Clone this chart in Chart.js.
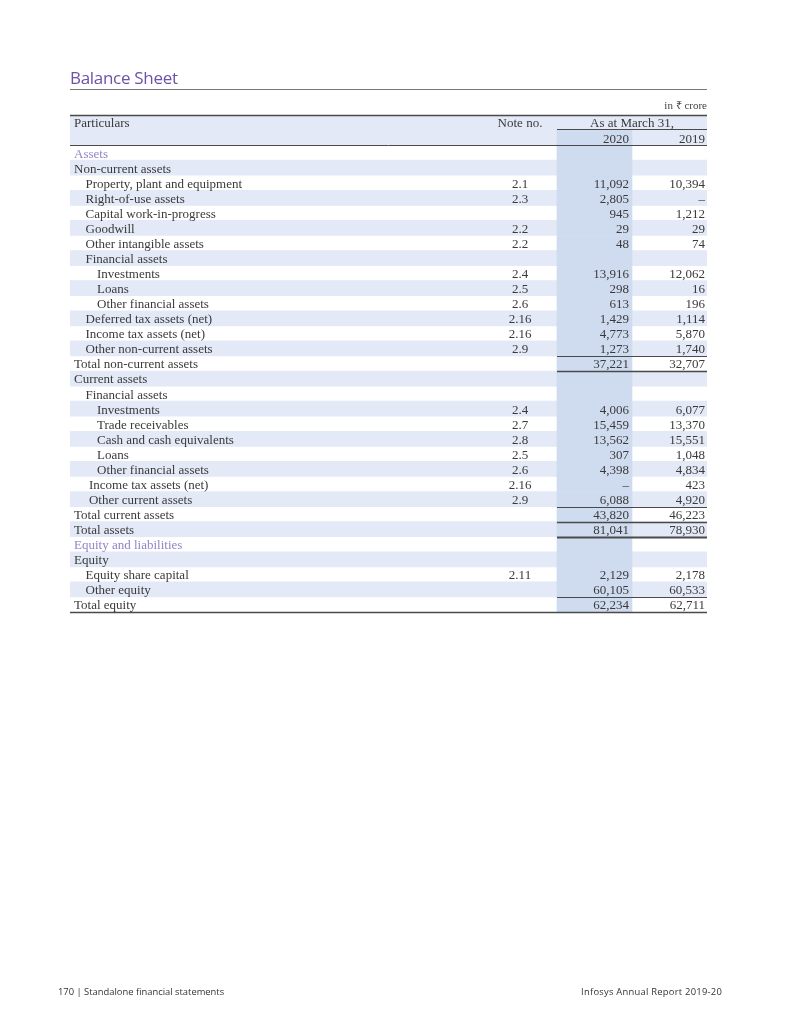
<!DOCTYPE html>
<html>
<head>
<meta charset="utf-8">
<script src="https://cdn.jsdelivr.net/npm/chart.js@4.4.1/dist/chart.umd.min.js"></script>
<style>
  html, body { margin: 0; padding: 0; background: #fff; }
  #wrap { position: relative; width: 800px; height: 1035px; overflow: hidden; }
  canvas { position: absolute; left: 0; top: 0; }
  .t { position: absolute; white-space: nowrap; }
  #title { left: 70px; top: 66px; font-family: "Open Sans", sans-serif; font-size: 17px; color: #6e51a9; letter-spacing: -0.3px; }
  #rule { left: 70px; top: 89px; width: 637px; height: 0; border-top: 1px solid #777; }
  #unit { right: 93px; top: 97px; font-family: "Liberation Serif", serif; font-size: 11px; color: #444; }
  #footL { left: 58px; top: 985px; font-family: "Open Sans", sans-serif; font-size: 9.4px; color: #333; }
  #footR { right: 78px; top: 985px; font-family: "Open Sans", sans-serif; font-size: 9.4px; letter-spacing: 0.25px; color: #333; }
</style>
</head>
<body>
<div id="wrap">
  <canvas id="c" width="800" height="1035"></canvas>
  <div class="t" id="title">Balance Sheet</div>
  <div class="t" id="rule"></div>
  <div class="t" id="unit">in ₹ crore</div>
  <div class="t" id="footL">170 | Standalone financial statements</div>
  <div class="t" id="footR">Infosys Annual Report 2019-20</div>
</div>
<script>
// ---------------- DATA ----------------
const headerLabels = ['Particulars', 'Note no.', 'As at March 31,'];
const yearLabels = ['2020', '2019'];

const rowLabels = [
  'Assets',
  'Non-current assets',
  'Property, plant and equipment',
  'Right-of-use assets',
  'Capital work-in-progress',
  'Goodwill',
  'Other intangible assets',
  'Financial assets',
  'Investments',
  'Loans',
  'Other financial assets',
  'Deferred tax assets (net)',
  'Income tax assets (net)',
  'Other non-current assets',
  'Total non-current assets',
  'Current assets',
  'Financial assets',
  'Investments',
  'Trade receivables',
  'Cash and cash equivalents',
  'Loans',
  'Other financial assets',
  'Income tax assets (net)',
  'Other current assets',
  'Total current assets',
  'Total assets',
  'Equity and liabilities',
  'Equity',
  'Equity share capital',
  'Other equity',
  'Total equity'
];

// hierarchy level of each row
const levels = [0,0,1,1,1,1,1,1,2,2,2,1,1,1,0,0,1,2,2,2,2,2,1.3,1.3,0,0,0,0,1,1,0];

// row kind: s = section heading, g = group, i = item, t = total, T = grand total
const kinds = ['s','g','i','i','i','i','i','g','i','i','i','i','i','i','t','g','g','i','i','i','i','i','i','i','t','T','s','g','i','i','t'];

const noteNos = ['','','2.1','2.3','','2.2','2.2','','2.4','2.5','2.6','2.16','2.16','2.9','','','','2.4','2.7','2.8','2.5','2.6','2.16','2.9','','','','','2.11','',''];

const values2020 = [null,null,11092,2805,945,29,48,null,13916,298,613,1429,4773,1273,37221,null,null,4006,15459,13562,307,4398,'–',6088,43820,81041,null,null,2129,60105,62234];
const values2019 = [null,null,10394,'–',1212,29,74,null,12062,16,196,1114,5870,1740,32707,null,null,6077,13370,15551,1048,4834,423,4920,46223,78930,null,null,2178,60533,62711];

// ---------------- LAYOUT (table units along x) ----------------
const TABLE_W = 637;
const COL = { labelBase: 4, indent: 11.5, note: 450, c20L: 487, c20R: 562, c20Text: 559, c19Text: 635 };
const BAND = '#e3e9f6';
const BAND20 = '#cfdcf0';
const TEXT = '#3a3a3a';
const PURPLE = '#9383c8';
const FONT = '"Liberation Serif", "Times New Roman", serif';
const FS = 13;
const DY = 1.5;

const HEADER_ROWS = 2;
const categories = ['', ''].concat(rowLabels);

const rowBand = categories.map((_, i) => {
  if (i < HEADER_ROWS) return [0, TABLE_W];
  return ((i - HEADER_ROWS) % 2 === 1) ? [0, TABLE_W] : null;
});
const colBand = categories.map((_, i) => (i === 0 ? null : [COL.c20L, COL.c20R]));

const fmt = v => (v === null || v === undefined) ? '' : (typeof v === 'number' ? v.toLocaleString('en-US') : v);

const tablePlugin = {
  id: 'tableText',
  afterDatasetsDraw(chart) {
    const ctx = chart.ctx;
    const xs = chart.scales.x, ys = chart.scales.y;
    const X = u => xs.getPixelForValue(u);
    const rowH = ys.getPixelForValue(1) - ys.getPixelForValue(0);
    const cy = i => ys.getPixelForValue(i);
    const top = i => cy(i) - rowH / 2;
    const bot = i => cy(i) + rowH / 2;
    const hline = (y, x0, x1, w, col) => {
      ctx.save();
      ctx.strokeStyle = col || '#444';
      ctx.lineWidth = w;
      ctx.beginPath();
      ctx.moveTo(X(x0), y);
      ctx.lineTo(X(x1), y);
      ctx.stroke();
      ctx.restore();
    };

    ctx.save();
    ctx.font = FS + 'px ' + FONT;
    ctx.textBaseline = 'middle';
    ctx.fillStyle = TEXT;

    // header
    ctx.textAlign = 'left';
    ctx.fillText(headerLabels[0], X(COL.labelBase), cy(0) + DY);
    ctx.textAlign = 'center';
    ctx.fillText(headerLabels[1], X(COL.note), cy(0) + DY);
    ctx.fillText(headerLabels[2], X((COL.c20L + TABLE_W) / 2), cy(0) + DY);
    ctx.textAlign = 'right';
    ctx.fillText(yearLabels[0], X(COL.c20Text), cy(1) + DY);
    ctx.fillText(yearLabels[1], X(COL.c19Text), cy(1) + DY);

    // body rows
    rowLabels.forEach((lab, r) => {
      const i = r + HEADER_ROWS;
      const y = cy(i) + DY;
      ctx.textAlign = 'left';
      ctx.fillStyle = kinds[r] === 's' ? PURPLE : TEXT;
      ctx.fillText(lab, X(COL.labelBase + levels[r] * COL.indent), y);
      ctx.fillStyle = TEXT;
      ctx.textAlign = 'center';
      ctx.fillText(noteNos[r], X(COL.note), y);
      ctx.textAlign = 'right';
      ctx.fillText(fmt(values2020[r]), X(COL.c20Text), y);
      ctx.fillText(fmt(values2019[r]), X(COL.c19Text), y);
    });
    ctx.restore();

    // rules
    hline(Math.round(top(0)) + 0.5, 0, TABLE_W, 1.6, '#4a4a4a');
    hline(Math.round(bot(0)) - 0.5, COL.c20L, TABLE_W, 1, '#4a4a4a');
    hline(Math.round(bot(1)) + 0.5, 0, TABLE_W, 1, '#4a4a4a');
    kinds.forEach((k, r) => {
      const i = r + HEADER_ROWS;
      if (k === 't' || k === 'T') {
        hline(Math.round(top(i)) + 0.5, COL.c20L, TABLE_W, 1, '#4a4a4a');
        if (r === rowLabels.length - 1) {
          hline(Math.round(bot(i)) + 0.5, 0, TABLE_W, 1.4, '#4a4a4a');
        } else {
          hline(Math.round(bot(i)) + 0.5, COL.c20L, TABLE_W, k === 'T' ? 2 : 1.4, '#4a4a4a');
        }
      }
    });
  }
};

new Chart(document.getElementById('c'), {
  type: 'bar',
  data: {
    labels: categories,
    datasets: [
      { label: '2020 column', data: colBand, backgroundColor: BAND20, grouped: false, order: 0,
        barPercentage: 1, categoryPercentage: 1, borderWidth: 0 },
      { label: 'row band', data: rowBand, backgroundColor: BAND, grouped: false, order: 1,
        barPercentage: 1, categoryPercentage: 1, borderWidth: 0 }
    ]
  },
  options: {
    indexAxis: 'y',
    responsive: false,
    animation: false,
    events: [],
    layout: { padding: { left: 70, right: 93, top: 115, bottom: 423 } },
    scales: {
      x: { type: 'linear', min: 0, max: TABLE_W, display: false },
      y: { type: 'category', display: false, offset: true }
    },
    plugins: { legend: { display: false }, tooltip: { enabled: false }, title: { display: false } }
  },
  plugins: [tablePlugin]
});
</script>
</body>
</html>
